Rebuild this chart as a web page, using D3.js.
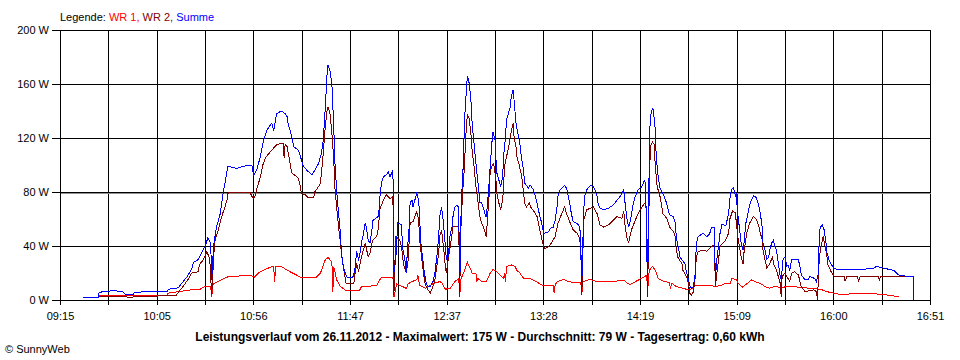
<!DOCTYPE html>
<html><head><meta charset="utf-8">
<script src="https://cdn.jsdelivr.net/npm/d3@7"></script>
<style>
body{margin:0;background:#fff}
svg{display:block}
text{font-family:"Liberation Sans",Arial,sans-serif}
</style>
</head><body>
<svg id="chart" width="960" height="360"></svg>
<script>
// ---------------- data ----------------
const seriesNames = ["WR 1", "WR 2", "Summe"];
const seriesColors = ["#ff0000", "#800000", "#0000ff"];
const timeLabels = ["09:15","10:05","10:56","11:47","12:37","13:28","14:19","15:09","16:00","16:51"];
const timeStart = "09:15", timeEnd = "16:51";
const yTickValues = [0, 40, 80, 120, 160, 200];
const titleText = "Leistungsverlauf vom 26.11.2012 - Maximalwert: 175 W - Durchschnitt: 79 W - Tagesertrag: 0,60 kWh";
const copyrightText = "\u00A9 SunnyWeb";

const wr1 = [["09:35",3.5],["10:11",3.5],["10:11:30",5],["10:23",7.4],["10:28:30",8],["10:31",10],["10:34",10],["10:34:30",2],["10:35",10],["10:35:30",12],["10:42:30",17],["10:54:30",18.5],["10:57",17],["10:59",20],["11:02:30",22.7],["11:06",24.7],["11:07",24.7],["11:07:30",13.6],["11:08",24.7],["11:11",24.7],["11:15:30",21],["11:21",17],["11:29:30",17],["11:31:30",20],["11:34",29.6],["11:35:30",31.6],["11:37:30",28],["11:38",6],["11:38:30",24.7],["11:40",15],["11:42",10],["11:44:30",7.4],["11:45:30",7],["11:52",7],["11:53",10],["12:01",10.6],["12:02",13.6],["12:03:30",17],["12:09:30",17],["12:10",2],["12:11:30",12],["12:13",11],["12:16:30",8.6],["12:17:30",12],["12:19:30",13.6],["12:22",15],["12:22:30",18.5],["12:23",15],["12:23:30",11],["12:26:30",8.6],["12:30:30",12],["12:34",13.6],["12:35",13],["12:37",8],["12:39:30",8.6],["12:42",13.6],["12:44",16],["12:44:30",2],["12:45",15],["12:47:30",23.5],["12:48:30",28],["12:50",23.5],["12:51",20],["12:53",20],["12:53:30",13.6],["12:54",16],["12:56",13.6],["12:58:30",13.6],["13:00:30",20],["13:02",22.7],["13:04",21],["13:05:30",18.5],["13:07:30",16],["13:08",20],["13:08:30",13],["13:09",24.7],["13:11:30",26],["13:13:30",24.7],["13:14:30",22],["13:16",20],["13:18",16],["13:21:30",16],["13:23",14.8],["13:26:30",12],["13:28:30",10.4],["13:31:30",11],["13:33:30",11],["13:34",5],["13:34:30",11],["13:35:30",13.6],["13:39",15.3],["13:41:30",13.6],["13:45:30",12.8],["13:48",12.8],["13:48:30",3.7],["13:49",13.6],["13:53",15.3],["13:56:30",13.6],["14:05",13.6],["14:10:30",14.8],["14:12:30",12],["14:14",11.6],["14:17:30",14.3],["14:21:30",17.3],["14:22:30",18.5],["14:23",5],["14:23:30",18.5],["14:24",22],["14:25:30",25],["14:27",22],["14:28:30",16],["14:31",14],["14:34:30",12.8],["14:35",8],["14:35:30",12.5],["14:38",10],["14:41:30",8.6],["14:45",7.4],["14:48:30",11],["14:54",11],["14:59",10],["15:02",11],["15:04",12.4],["15:06:30",12.4],["15:07",16],["15:09:30",15],["15:10:30",12.4],["15:12:30",9.4],["15:14",11],["15:16",13],["15:17:30",15],["15:19",13.7],["15:22",12.4],["15:24:30",10],["15:27",8.7],["15:29:30",10],["15:32:30",9.4],["15:38:30",10],["15:48",8.7],["15:53:30",8],["15:57",6.2],["16:00:30",5],["16:04",4.2],["16:19:30",5],["16:25",4.2],["16:28:30",3.7],["16:34:30",2.5]];

const wr2 = [["09:35",2.5],["09:50",2.5],["09:50:30",1.5],["09:53",1.5],["09:53:30",2.5],["10:06",2.5],["10:06:30",3],["10:12",3.7],["10:16",3.7],["10:18",7.4],["10:19:30",10],["10:22",15],["10:24",20],["10:27:30",21],["10:28",26],["10:30",29.6],["10:32",36],["10:33:30",30],["10:34:30",3.7],["10:35:30",30],["10:36",43],["10:38",52],["10:40",63],["10:41:30",69],["10:42:30",74],["10:43",79],["10:44",80],["10:54:30",80],["10:55:30",77],["10:56:30",75],["10:57:30",78],["10:58",81.5],["11:00",91],["11:01:30",101],["11:03",106],["11:06",111],["11:08:30",115],["11:11",116],["11:12",116],["11:12:30",105],["11:13",115],["11:14",113.6],["11:14:30",110],["11:16:30",94],["11:18",92.6],["11:20",90],["11:21",84],["11:21:30",79],["11:23:30",78],["11:25",76],["11:28",76],["11:28:30",80],["11:30:30",84],["11:31:30",86.5],["11:32",94],["11:33",108.7],["11:34",128],["11:35",141],["11:35:30",143],["11:36:30",138],["11:37:30",123.5],["11:38:30",104],["11:39",84],["11:40",69],["11:41",54],["11:42",43],["11:42:30",34.6],["11:43:30",24.7],["11:44:30",16],["11:45",12],["11:49",12],["11:49:30",18.5],["11:50:30",27],["11:51:30",21],["11:52",24.7],["11:53",32],["11:55",42],["11:56:30",32],["11:57:30",34.6],["11:58:30",42],["11:59",44.5],["12:01",47],["12:02",54],["12:02:30",66.7],["12:04:30",74],["12:06",78],["12:08",75],["12:09:30",77],["12:10",3.7],["12:11",47],["12:13",44.5],["12:14",39.5],["12:15",27],["12:16",22],["12:16:30",20],["12:17:30",30],["12:18:30",57],["12:20",58],["12:22",65.5],["12:23",59],["12:23:30",44.5],["12:24:30",32],["12:25:30",20],["12:26:30",11],["12:28",7.4],["12:29",5],["12:30:30",10],["12:31:30",15],["12:32:30",24.7],["12:33:30",34.6],["12:34",47],["12:35",52],["12:36",39.5],["12:37",24.7],["12:37:30",20],["12:38:30",30],["12:39:30",39.5],["12:40:30",49],["12:41",54],["12:44",55],["12:44:30",2.5],["12:45",49],["12:46",79],["12:47",99],["12:47:30",116],["12:48",128],["12:48:30",137],["12:49:30",134.6],["12:50:30",121],["12:51",111],["12:52",99],["12:53",84],["12:54",74],["12:55",62],["12:56",57],["12:57",54],["12:58",49],["12:58:30",47],["12:59",59],["13:00",79],["13:00:30",96],["13:02",101],["13:02:30",99],["13:03:30",89],["13:04",79],["13:05",72],["13:06",66.7],["13:07",74],["13:07:30",84],["13:08",99],["13:09",106],["13:10",112],["13:11",121],["13:12:30",131],["13:13",121],["13:14",113.6],["13:14:30",106],["13:15:30",101],["13:17",91.4],["13:18",79],["13:18:30",72],["13:19:30",69],["13:21",72],["13:22",68],["13:23",66.7],["13:25",62],["13:26",55.6],["13:26:30",51.9],["13:28",42],["13:29",38],["13:31",39.5],["13:32:30",42],["13:34:30",47],["13:36",56.8],["13:38",64],["13:39:30",69],["13:40:30",64],["13:42:30",56.8],["13:44",51.9],["13:46",49.4],["13:47",47],["13:48",39.5],["13:48:30",3.7],["13:49:30",59],["13:51",66.7],["13:54:30",69],["13:56:30",64],["13:58",55.6],["14:00",54],["14:02:30",55.6],["14:05",59],["14:07",61.8],["14:09:30",60.5],["14:10:30",65.5],["14:11",56.8],["14:12",47],["14:13",42],["14:14:30",51.9],["14:16:30",59],["14:18",64],["14:20",69],["14:21:30",71.6],["14:22:30",66.7],["14:23",5],["14:24",94],["14:24:30",113.6],["14:25:30",117],["14:26:30",115],["14:27",99],["14:28",84],["14:29:30",76.6],["14:31",64],["14:33",60.5],["14:34:30",54],["14:36:30",50.6],["14:37:30",47],["14:38",37],["14:39",31],["14:41",27],["14:41:30",22],["14:43:30",17],["14:44:30",12],["14:45",5],["14:46",3.7],["14:47",6],["14:48",17],["14:48:30",32],["14:49:30",36],["14:52",37],["14:54",36],["14:56:30",39.5],["14:58",40.8],["14:58:30",10],["14:59:30",22],["15:01",40],["15:03:30",43.5],["15:05:30",49.7],["15:06",59.6],["15:07:30",66],["15:09",64.6],["15:09:30",57],["15:10:30",44.7],["15:12",32],["15:13",27],["15:13:30",35],["15:15",50],["15:16:30",57],["15:18:30",62],["15:20",59.6],["15:21",56],["15:22",50],["15:23",44.7],["15:23:30",37],["15:24:30",30],["15:25:30",23.6],["15:27",27],["15:28:30",32],["15:29",27],["15:30:30",22],["15:31:30",17.4],["15:32:30",12.4],["15:33",2.5],["15:33:30",17.4],["15:35",20],["15:36:30",16],["15:37:30",13.7],["15:38:30",20],["15:40",21],["15:42",18.6],["15:43:30",10],["15:45:30",6.2],["15:50",7.5],["15:51:30",6.2],["15:52",0],["15:53",32],["15:54",40],["15:55",47],["15:56",40],["15:57",32],["15:57:30",26],["15:59:30",20],["16:01",17.4],["16:06",17.4],["16:06:30",14],["16:07:30",17.4],["16:13",17.4],["16:13:30",14],["16:14:30",17.4],["16:24",17.4],["16:24:30",14.5],["16:25",17.4],["16:42:30",17.4]];

const summe = [["09:27",2],["09:35",2],["09:35:30",5.7],["09:43",7],["09:48",6],["09:49",4.4],["09:53:30",4.4],["09:54",5.7],["09:58:30",6],["10:11",6],["10:12",8],["10:17",9],["10:19:30",13.6],["10:21:30",17],["10:24",23],["10:25",28],["10:27:30",30],["10:29:30",36],["10:31",39.5],["10:32:30",46],["10:34",42],["10:34:30",15],["10:35:30",40],["10:37",54],["10:39",64],["10:40:30",79],["10:42",91],["10:43",99],["10:47:30",97.5],["10:51",99],["10:55:30",100],["10:56:30",92.6],["10:58",96],["11:00",106],["11:01:30",117],["11:03:30",126],["11:06",131],["11:07",125],["11:08:30",138],["11:11",140],["11:13",138],["11:14",136],["11:14:30",131],["11:16:30",121],["11:17:30",113.6],["11:20",111],["11:21:30",104],["11:22:30",99],["11:24:30",96],["11:27",92.6],["11:28:30",96],["11:30:30",101],["11:32",108.7],["11:33",118.6],["11:34",141],["11:35",168],["11:35:30",174],["11:36:30",170],["11:37:30",160],["11:38:30",128],["11:39",104],["11:40",81.5],["11:41",64],["11:42",49],["11:42:30",34.6],["11:43:30",24.7],["11:44:30",19.8],["11:45:30",17],["11:48:30",17],["11:49:30",22],["11:50:30",36],["11:51:30",30],["11:52",32],["11:53",42],["11:54",49],["11:55",57],["11:55:30",54],["11:56:30",44.5],["11:57:30",42],["11:58:30",52],["11:59",59],["12:02",62],["12:02:30",74],["12:03:30",86.5],["12:04:30",91.4],["12:06",92.6],["12:07",95],["12:08",91.4],["12:09:30",96],["12:10",20],["12:11",30],["12:12",57],["12:14",56],["12:14:30",39.5],["12:15:30",32],["12:16",27],["12:16:30",20],["12:17",35],["12:18",54],["12:18:30",72],["12:19:30",74],["12:20",69],["12:21",74],["12:22",79],["12:23",74],["12:23:30",62],["12:24",44.5],["12:25",32],["12:26",20],["12:27",12],["12:28",10],["12:29",10],["12:30:30",13.6],["12:31:30",20],["12:32:30",32],["12:33:30",47],["12:34",62],["12:35",69],["12:36",57],["12:37",39.5],["12:37:30",30],["12:38:30",32],["12:39:30",49],["12:40:30",54],["12:41",62],["12:42",69],["12:43",70],["12:44",69],["12:44:30",5],["12:45",54],["12:45:30",76.6],["12:46:30",104],["12:47",133],["12:48",155.6],["12:48:30",166],["12:49:30",160.5],["12:50:30",146],["12:51",131],["12:51:30",123.5],["12:52:30",108.7],["12:53:30",94],["12:54:30",81.5],["12:55",72],["12:56",72],["12:57",68],["12:58",62],["12:58:30",62],["12:59:30",79],["13:00:30",99],["13:01:30",118.6],["13:02",124.7],["13:03",118.6],["13:03:30",104],["13:04",94],["13:05:30",86.5],["13:06",84],["13:07",91.4],["13:07:30",106],["13:08:30",121],["13:09",133],["13:10",138],["13:11",143],["13:11:30",150.7],["13:12:30",155.6],["13:13",148],["13:14",131],["13:15",123.5],["13:16",116],["13:17",104],["13:18",96],["13:18:30",86.5],["13:19:30",85],["13:20:30",83],["13:21:30",85],["13:23",82],["13:24:30",75],["13:26:30",62],["13:27:30",57],["13:28:30",49.4],["13:29",49.4],["13:31",50.6],["13:32",53],["13:33:30",54],["13:34:30",59],["13:35:30",69],["13:36",76.6],["13:37",81.5],["13:39",84],["13:39:30",85],["13:40:30",82.7],["13:41:30",76.6],["13:42:30",69],["13:43",64],["13:44",58],["13:46",56.8],["13:47:30",54],["13:48:30",12],["13:49:30",66.7],["13:50",76.6],["13:51",81.5],["13:53",85],["13:54:30",84],["13:55:30",81.5],["13:56:30",76.6],["13:57",71.6],["13:58",68],["14:00",66.7],["14:02:30",68],["14:05",70.4],["14:07",74],["14:08:30",76.6],["14:10:30",81.5],["14:11",74],["14:12",61.8],["14:13",54],["14:14",59],["14:15:30",71.6],["14:16:30",76.6],["14:18",81.5],["14:20",84],["14:21:30",89],["14:22",81.5],["14:23",2.5],["14:23:30",66],["14:24",121],["14:24:30",136],["14:25:30",142],["14:26",141],["14:27",126],["14:27:30",106],["14:28:30",91.4],["14:29:30",82.7],["14:30:30",80],["14:31",79],["14:33",71.6],["14:34:30",63],["14:36:30",61.8],["14:37:30",56.8],["14:38",47],["14:39",39.5],["14:40",32],["14:41",29.6],["14:42:30",27],["14:43:30",19.8],["14:44:30",14.8],["14:45",11],["14:46",8.6],["14:47",10],["14:48",19.8],["14:48:30",42],["14:49:30",47],["14:52",49.4],["14:54",47],["14:55:30",49],["14:56:30",54],["14:58",54],["14:58:30",12],["14:59",27],["15:01",50],["15:02",56],["15:04",55],["15:05:30",64.6],["15:06",74.5],["15:07",82],["15:08",83],["15:09",77],["15:09:30",79.5],["15:10",67],["15:11",54.6],["15:12",42],["15:13",37],["15:13:30",42],["15:14:30",57],["15:16",67],["15:17",73],["15:18:30",77],["15:20",76],["15:21",71],["15:22",64.6],["15:23",54.6],["15:23:30",42],["15:24:30",37],["15:25:30",30],["15:26:30",32],["15:27",37],["15:28",42],["15:29",44.7],["15:29:30",40],["15:30:30",37],["15:31:30",27],["15:32:30",17.4],["15:33",15],["15:34",30],["15:35",32],["15:36",25],["15:36:30",26],["15:37:30",22],["15:38:30",30],["15:42",30],["15:43",23.6],["15:43:30",18.6],["15:45:30",15],["15:47",15],["15:48",17.4],["15:50:30",16],["15:51:30",13.7],["15:52:30",20],["15:53",50],["15:53:30",53.4],["15:54:30",56],["15:55:30",52],["15:56:30",42],["15:57",35],["15:58",30],["15:59",27],["16:00:30",23.6],["16:02",22.9],["16:14",22.4],["16:21:30",23.6],["16:23",25],["16:26:30",23.6],["16:32",22],["16:33:30",20],["16:35",18],["16:42:30",17.4],["16:42:30",0]];

// ---------------- drawing ----------------
const svg = d3.select("#chart");
const W = 960, H = 360;
const plot = {left: 60, right: 930, top: 30, bottom: 300};
svg.append("rect").attr("width", W).attr("height", H).attr("fill", "#fff");

const parseT = s => { const p = s.split(":").map(Number); return new Date(2012, 10, 26, p[0], p[1], p[2] || 0); };
const t0 = parseT(timeStart), t1 = parseT(timeEnd);
const x = d3.scaleTime().domain([t0, t1]).range([plot.left, plot.right]);
const y = d3.scaleLinear().domain([0, 200]).range([plot.bottom, plot.top]);

const nGrid = (timeLabels.length - 1) * 2;
const gridTimes = d3.range(nGrid + 1).map(i => new Date(+t0 + i * (t1 - t0) / nGrid));

const g = svg.append("g");
// vertical grid lines
g.selectAll("line.vg").data(gridTimes).enter().append("line")
  .attr("x1", d => Math.round(x(d)) + 0.5).attr("x2", d => Math.round(x(d)) + 0.5)
  .attr("y1", plot.top).attr("y2", plot.bottom)
  .attr("stroke", "#000").attr("shape-rendering", "crispEdges");
// horizontal grid lines
g.selectAll("line.hg").data(yTickValues).enter().append("line")
  .attr("x1", plot.left).attr("x2", plot.right + 1)
  .attr("y1", d => Math.round(y(d)) + 0.5).attr("y2", d => Math.round(y(d)) + 0.5)
  .attr("stroke", "#000").attr("shape-rendering", "crispEdges");
// gray shadow under 80 W line
g.append("line")
  .attr("x1", plot.left).attr("x2", plot.right + 1)
  .attr("y1", Math.round(y(80)) + 1.5).attr("y2", Math.round(y(80)) + 1.5)
  .attr("stroke", "#909090").attr("shape-rendering", "crispEdges");

// series
const line = d3.line().x(d => x(parseT(d[0]))).y(d => y(d[1]));
const series = [wr1, wr2, summe];
series.forEach((s, i) => {
  svg.append("path").datum(s).attr("d", line)
    .attr("fill", "none").attr("stroke", seriesColors[i]).attr("stroke-width", 1)
    .attr("shape-rendering", "crispEdges");
});

// axes
const xAxis = d3.axisBottom(x).tickValues(gridTimes)
  .tickFormat((d, i) => i % 2 === 0 ? timeLabels[i / 2] : "")
  .tickSize(5).tickSizeOuter(0).tickPadding(7);
const gx = svg.append("g").attr("transform", `translate(0,${plot.bottom})`).call(xAxis);
const yAxis = d3.axisLeft(y).tickValues(yTickValues).tickFormat(d => d + " W")
  .tickSize(8).tickSizeOuter(0).tickPadding(3);
const gy = svg.append("g").attr("transform", `translate(${plot.left},0)`).call(yAxis);
[gx, gy].forEach(a => {
  a.attr("font-family", null).attr("font-size", null);
  a.selectAll("text").attr("font-size", 11).attr("fill", "#000");
  a.selectAll("line,path").attr("stroke", "#000").attr("shape-rendering", "crispEdges");
});

// legend
const lg = svg.append("text").attr("x", 60).attr("y", 21).attr("font-size", 11);
lg.append("tspan").attr("fill", "#000").text("Legende: ");
seriesNames.forEach((n, i) => {
  lg.append("tspan").attr("fill", seriesColors[i]).text(n + (i < seriesNames.length - 1 ? ", " : ""));
});

// title
svg.append("text").attr("x", 480).attr("y", 341).attr("text-anchor", "middle")
  .attr("font-size", 12).attr("font-weight", "bold").attr("fill", "#000").text(titleText);
svg.append("text").attr("x", 5).attr("y", 353).attr("font-size", 11).attr("fill", "#000").text(copyrightText);
</script>
</body></html>
